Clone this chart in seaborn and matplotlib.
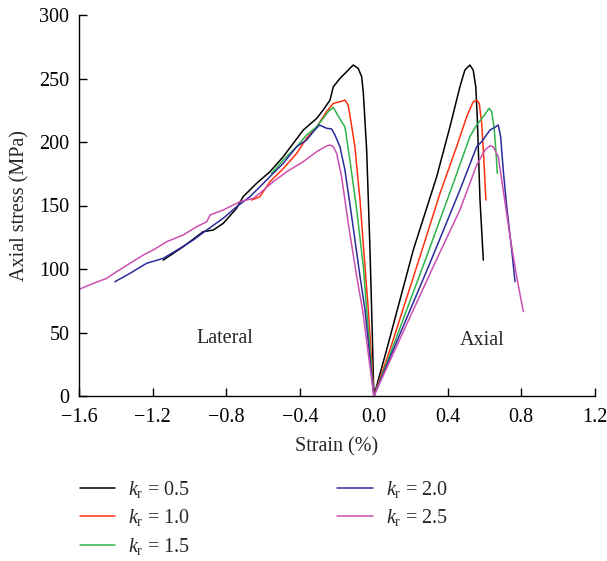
import numpy as np
import pandas as pd
import matplotlib
matplotlib.use("Agg")
import matplotlib.pyplot as plt
import seaborn as sns

# ---- data ----
kr_labels = ["0.5", "1.0", "1.5", "2.0", "2.5"]
colors = ["#000000", "#ff3010", "#2fb44a", "#2c2c9c", "#cc4fb3"]

strain_05 = [-1.143, -1.034, -0.926, -0.871, -0.817, -0.745, -0.709, -0.636, -0.564, -0.492,
             -0.437, -0.383, -0.310, -0.275, -0.238, -0.220, -0.184, -0.130, -0.112, -0.085,
             -0.066, -0.057, -0.039, -0.021, -0.012, 0.0,
             0.069, 0.214, 0.341, 0.413, 0.467, 0.494, 0.521, 0.539, 0.553, 0.561, 0.576, 0.594]
stress_05 = [107, 117.6, 129.4, 130.7, 136, 147.8, 157, 167.5, 176.6, 188.4,
             199, 209.4, 218.6, 225.2, 233, 243.5, 250, 258, 260.6, 258,
             251.4, 238.3, 193.7, 115, 67.7, 0,
             36.2, 115, 172.7, 212, 243.5, 256.7, 260.6, 256.7, 243.5, 220, 154.3, 107]

strain_10 = [-0.663, -0.618, -0.564, -0.492, -0.419, -0.365, -0.310, -0.256, -0.220, -0.184,
             -0.157, -0.139, -0.120, -0.103, -0.075, -0.048, -0.030, 0.0,
             0.087, 0.250, 0.359, 0.449, 0.504, 0.539, 0.558, 0.572, 0.585, 0.597, 0.608]
stress_10 = [154.3, 157, 168.7, 179, 191, 203, 212, 224, 230.4, 231.7,
             233, 229, 212, 196.3, 154, 101.8, 67.7, 0,
             36.2, 109.7, 159.6, 196.3, 220, 231.7, 233, 230.4, 214.7, 185.8, 154.3]

strain_15 = [-0.555, -0.492, -0.419, -0.365, -0.310, -0.275, -0.247, -0.220, -0.202, -0.175,
             -0.157, -0.130, -0.093, -0.057, -0.039, 0.0,
             0.097, 0.286, 0.431, 0.521, 0.558, 0.594, 0.625, 0.639, 0.652, 0.662, 0.670]
stress_15 = [175.3, 185.8, 196.3, 205.5, 212, 218.6, 224, 227.3, 222.6, 216,
             212, 185.8, 146.5, 101.8, 67.7, 0,
             36.2, 109.7, 167.5, 204.2, 213.4, 220, 226.5, 224, 212, 193.7, 175.3]

strain_20 = [-1.405, -1.323, -1.233, -1.143, -1.052, -0.980, -0.907, -0.817, -0.745, -0.672,
             -0.618, -0.564, -0.492, -0.419, -0.365, -0.329, -0.296, -0.256, -0.229, -0.211,
             -0.184, -0.157, -0.120, -0.075, -0.048, 0.0,
             0.105, 0.304, 0.467, 0.558, 0.585, 0.630, 0.657, 0.675, 0.688, 0.702, 0.721,
             0.748, 0.766]
stress_20 = [90, 96.6, 104.5, 108.4, 116.3, 122.8, 130.7, 140, 149, 157,
             164.8, 172.7, 183.2, 196.3, 201.6, 208, 213.4, 210.8, 210.2, 205.5,
             196.3, 178, 141, 94, 67.7, 0,
             36.2, 104.5, 162.2, 196.3, 200.2, 209.4, 211.6, 213.4, 204.2, 178, 149,
             115, 90]

strain_25 = [-1.600, -1.522, -1.450, -1.396, -1.323, -1.251, -1.197, -1.124, -1.034, -0.962,
             -0.907, -0.889, -0.817, -0.727, -0.654, -0.609, -0.546, -0.473, -0.383, -0.310,
             -0.256, -0.238, -0.220, -0.202, -0.175, -0.139, -0.093, -0.061, 0.0,
             0.114, 0.322, 0.467, 0.558, 0.603, 0.630, 0.648, 0.675, 0.702, 0.739, 0.775, 0.811]
stress_25 = [84, 88.7, 92.6, 97.9, 104.5, 111, 115, 121.5, 126.8, 133.3,
             137.2, 142.5, 146.5, 153, 155.6, 160.9, 168.7, 176.6, 184.5, 192.4,
             196.9, 197.6, 196.3, 191, 172.7, 136, 94, 67.7, 0,
             36.2, 101.8, 146.5, 181.9, 193.7, 197, 196.3, 188.4, 162.2, 125.4, 94, 66.4]

x_ticks = [-1.6, -1.2, -0.8, -0.4, 0.0, 0.4, 0.8, 1.2]
y_ticks = [0, 50, 100, 150, 200, 250, 300]

# ---- build long table ----
series = [(strain_05, stress_05), (strain_10, stress_10), (strain_15, stress_15),
          (strain_20, stress_20), (strain_25, stress_25)]
frames = []
for lab, (sx, sy) in zip(kr_labels, series):
    frames.append(pd.DataFrame({"strain": sx, "stress": sy, "kr": lab,
                                "order": np.arange(len(sx))}))
df = pd.concat(frames, ignore_index=True)

# ---- style ----
sns.set_style("ticks")
plt.rcParams["font.family"] = ["Liberation Serif", "DejaVu Serif"]
plt.rcParams["mathtext.fontset"] = "custom"
plt.rcParams["mathtext.rm"] = "Liberation Serif"
plt.rcParams["mathtext.it"] = "Liberation Serif:italic"
plt.rcParams["axes.unicode_minus"] = True

FS = 14.5

fig = plt.figure(figsize=(6.07, 5.61), dpi=100)
ax = fig.add_axes([79 / 607, 1 - 396 / 561, (595 - 79) / 607, (396 - 15) / 561])

sns.lineplot(data=df, x="strain", y="stress", hue="kr", palette=colors,
             sort=False, estimator=None, linewidth=1.1, ax=ax)

ax.set_xlim(-1.6, 1.2)
ax.set_ylim(0, 300)
ax.set_xticks(x_ticks)
ax.set_xticklabels([f"{v:.1f}".replace("-", "\u2212") for v in x_ticks])
ax.set_yticks(y_ticks)
ax.tick_params(direction="in", length=6, width=1, labelsize=FS, colors="black")
ax.tick_params(axis="x", pad=9)
ax.tick_params(axis="y", pad=7)
for s in ["top", "right"]:
    ax.spines[s].set_visible(False)
for s in ["left", "bottom"]:
    ax.spines[s].set_linewidth(1)
    ax.spines[s].set_color("black")

ax.set_xlabel("Strain (%)", fontsize=FS, labelpad=7)
ax.set_ylabel("Axial stress (MPa)", fontsize=FS, labelpad=7)

ax.text(-0.81, 45, "Lateral", fontsize=FS, ha="center", va="center")
ax.text(0.59, 44, "Axial", fontsize=FS, ha="center", va="center")

handles, _ = ax.get_legend_handles_labels()
ax.get_legend().remove()
labels = [r"$k_\mathrm{r}$ = " + k for k in kr_labels]
fig.legend(handles, labels, ncol=2, loc="upper left",
           bbox_to_anchor=(62 / 607, 1 - 461 / 561), frameon=False,
           fontsize=FS, handlelength=1.75, handletextpad=0.65,
           columnspacing=7.3, labelspacing=0.36)

fig.savefig("out.png", dpi=100)
